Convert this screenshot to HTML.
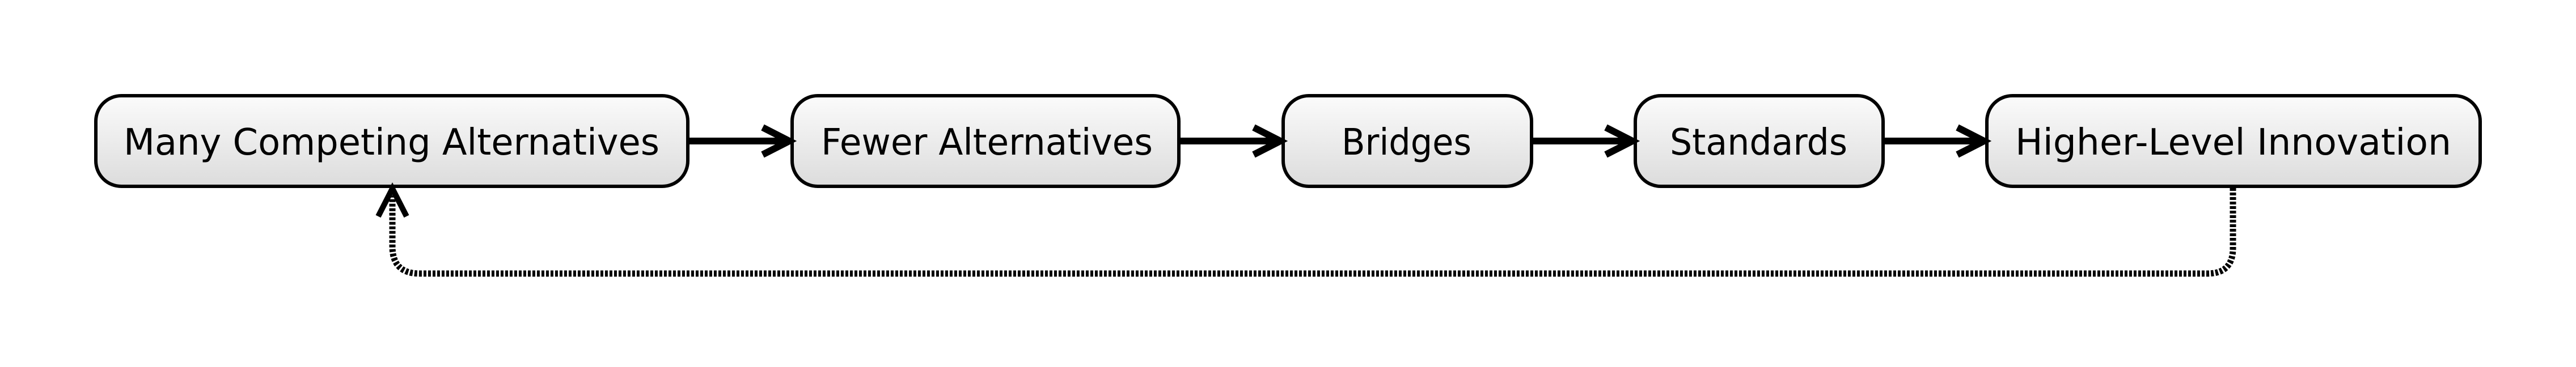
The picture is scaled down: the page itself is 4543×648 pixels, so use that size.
<!DOCTYPE html>
<html><head><meta charset="utf-8"><style>html,body{margin:0;padding:0;background:#fff}svg{display:block}</style></head>
<body>
<svg width="4543" height="648" viewBox="0 0 4543 648" xmlns="http://www.w3.org/2000/svg">
<defs>
<linearGradient id="g" x1="0" y1="0" x2="0" y2="1">
<stop offset="0" stop-color="#fbfbfb"/><stop offset="1" stop-color="#dcdcdc"/>
</linearGradient>
</defs>
<g stroke="#000" stroke-width="6" fill="url(#g)">
<rect x="169" y="169" width="1044" height="160" rx="45"/>
<rect x="1397" y="169" width="682" height="160" rx="45"/>
<rect x="2263" y="169" width="438" height="160" rx="45"/>
<rect x="2884" y="169" width="437" height="160" rx="45"/>
<rect x="3504" y="169" width="870" height="160" rx="45"/>
</g>
<g font-family="DejaVu Sans, sans-serif" font-size="64" fill="#000" lengthAdjust="spacingAndGlyphs">
<text x="218" y="273" textLength="945" lengthAdjust="spacingAndGlyphs">Many Competing Alternatives</text>
<text x="1448" y="273" textLength="585" lengthAdjust="spacingAndGlyphs">Fewer Alternatives</text>
<text x="2366" y="273" textLength="229" lengthAdjust="spacingAndGlyphs">Bridges</text>
<text x="2945" y="273" textLength="313" lengthAdjust="spacingAndGlyphs">Standards</text>
<text x="3554" y="273" textLength="769" lengthAdjust="spacingAndGlyphs">Higher-Level Innovation</text>
</g>
<g stroke="#000" stroke-width="12" fill="none">
<line x1="1216" y1="249" x2="1390" y2="249"/>
<polyline points="1345,225 1392,249 1345,273"/>
<line x1="2082" y1="249" x2="2256" y2="249"/>
<polyline points="2211,225 2258,249 2211,273"/>
<line x1="2704" y1="249" x2="2877" y2="249"/>
<polyline points="2832,225 2879,249 2832,273"/>
<line x1="3324" y1="249" x2="3497" y2="249"/>
<polyline points="3452,225 3499,249 3452,273"/>
<polyline points="667,382 692,333 717,382" stroke-width="10"/>
</g>
<path d="M3938 332 V438 Q3938 483 3893 483 H740 Q692 483 692 435 V345" stroke="#000" stroke-width="11" fill="none" stroke-dasharray="5 3"/>
</svg>
</body></html>
